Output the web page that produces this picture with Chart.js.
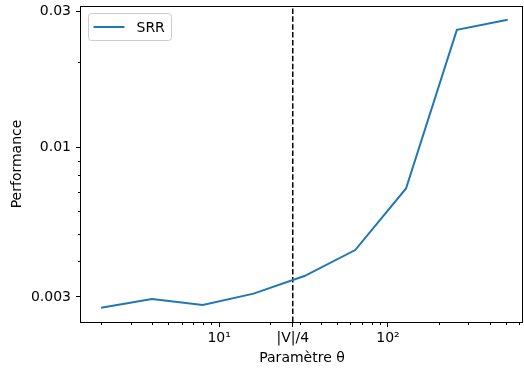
<!DOCTYPE html>
<html>
<head>
<meta charset="utf-8">
<script src="https://cdn.jsdelivr.net/npm/chart.js@4"></script>
<style>
  body { margin: 0; background: #fff; }
  canvas { display: block; }
</style>
</head>
<body>
<canvas id="perfChart" width="524" height="372"></canvas>
<script>
var thetaValues = [2, 4, 8, 16, 32, 64, 128, 256, 512];
var srrValues = [0.00275, 0.00295, 0.00281, 0.00308, 0.00355, 0.00438, 0.0072, 0.0259, 0.0281];
var vQuarter = 27.3;

var xRange = [1.52, 631];
var yRange = [0.00245, 0.0314];
var xTickValues = [10, vQuarter, 100];
var xTickLabels = ["10¹", "|V|/4", "10²"];
var xMinorTicks = [2, 3, 4, 5, 6, 7, 8, 9, 20, 30, 40, 50, 60, 70, 80, 90, 200, 300, 400, 500, 600];
var yTickValues = [0.003, 0.01, 0.03];
var yTickLabels = ["0.003", "0.01", "0.03"];
var yMinorTicks = [0.004, 0.005, 0.006, 0.007, 0.008, 0.009, 0.02];

var fontFamily = "'DejaVu Sans', sans-serif";

// minor ticks, the four spines and the legend box
var extras = {
  id: "extras",
  afterDraw: function (chart) {
    var ctx = chart.ctx;
    var a = chart.chartArea;
    var sx = chart.scales.x;
    var sy = chart.scales.y;
    ctx.save();
    ctx.strokeStyle = "#000";
    ctx.lineWidth = 1;
    ctx.beginPath();
    xMinorTicks.forEach(function (v) {
      var px = Math.round(sx.getPixelForValue(v)) + 0.5;
      ctx.moveTo(px, a.bottom);
      ctx.lineTo(px, a.bottom + 3);
    });
    yMinorTicks.forEach(function (v) {
      var py = Math.round(sy.getPixelForValue(v)) + 0.5;
      ctx.moveTo(a.left, py);
      ctx.lineTo(a.left - 3, py);
    });
    ctx.stroke();
    ctx.strokeRect(a.left - 0.5, a.top + 0.5, a.right - a.left, a.bottom - a.top);

    // legend
    var ds = chart.data.datasets[0];
    var lx = a.left + 7.5, ly = a.top + 7.5, lw = 83, lh = 27;
    ctx.beginPath();
    ctx.roundRect(lx, ly, lw, lh, 3);
    ctx.fillStyle = "rgba(255,255,255,0.8)";
    ctx.fill();
    ctx.strokeStyle = "#cccccc";
    ctx.stroke();
    ctx.beginPath();
    ctx.strokeStyle = ds.borderColor;
    ctx.lineWidth = 2;
    ctx.moveTo(lx + 5, ly + lh / 2);
    ctx.lineTo(lx + 36, ly + lh / 2);
    ctx.stroke();
    ctx.fillStyle = "#000";
    ctx.font = "14px " + fontFamily;
    ctx.textBaseline = "middle";
    ctx.fillText(ds.label, lx + 48, ly + lh / 2 + 1);
    ctx.restore();
  }
};

var ctx = document.getElementById("perfChart");
new Chart(ctx, {
  type: "line",
  data: {
    datasets: [
      {
        label: "SRR",
        data: thetaValues.map(function (t, i) { return { x: t, y: srrValues[i] }; }),
        borderColor: "#1f77b4",
        borderWidth: 2,
        pointRadius: 0,
        tension: 0
      },
      {
        label: "|V|/4",
        data: [{ x: vQuarter, y: yRange[0] }, { x: vQuarter, y: yRange[1] }],
        borderColor: "#000",
        borderWidth: 1.5,
        borderDash: [5.5, 2.4],
        pointRadius: 0
      }
    ]
  },
  options: {
    responsive: false,
    animation: false,
    devicePixelRatio: 1,
    layout: { padding: { top: 6, right: 1, left: 0, bottom: 0 } },
    plugins: {
      legend: { display: false },
      tooltip: { enabled: false }
    },
    scales: {
      x: {
        type: "logarithmic",
        min: xRange[0],
        max: xRange[1],
        border: { display: false },
        grid: { drawOnChartArea: false, tickLength: 5, tickColor: "#000" },
        afterBuildTicks: function (scale) {
          scale.ticks = xTickValues.map(function (v) { return { value: v }; });
        },
        afterFit: function (scale) {
          scale.height = 50;
          scale.paddingLeft = 0;
          scale.paddingRight = 0;
        },
        ticks: {
          autoSkip: false,
          maxRotation: 0,
          minRotation: 0,
          padding: 3,
          color: "#000",
          font: { family: fontFamily, size: 14 },
          callback: function (value) {
            var i = xTickValues.indexOf(value);
            return i >= 0 ? xTickLabels[i] : "";
          }
        },
        title: {
          display: true,
          text: "Paramètre θ",
          color: "#000",
          font: { family: fontFamily, size: 14 },
          padding: { top: 0, bottom: 5.5 }
        }
      },
      y: {
        type: "logarithmic",
        min: yRange[0],
        max: yRange[1],
        border: { display: false },
        grid: { drawOnChartArea: false, tickLength: 5, tickColor: "#000" },
        afterBuildTicks: function (scale) {
          scale.ticks = yTickValues.map(function (v) { return { value: v }; });
        },
        afterFit: function (scale) {
          scale.width = 81;
          scale.paddingTop = 0;
          scale.paddingBottom = 0;
        },
        ticks: {
          autoSkip: false,
          padding: 5,
          color: "#000",
          font: { family: fontFamily, size: 14 },
          callback: function (value) {
            var i = yTickValues.indexOf(value);
            return i >= 0 ? yTickLabels[i] : "";
          }
        },
        title: {
          display: true,
          text: "Performance",
          color: "#000",
          font: { family: fontFamily, size: 14 },
          padding: { top: 9, bottom: 0 }
        }
      }
    }
  },
  plugins: [extras]
});
</script>
</body>
</html>
